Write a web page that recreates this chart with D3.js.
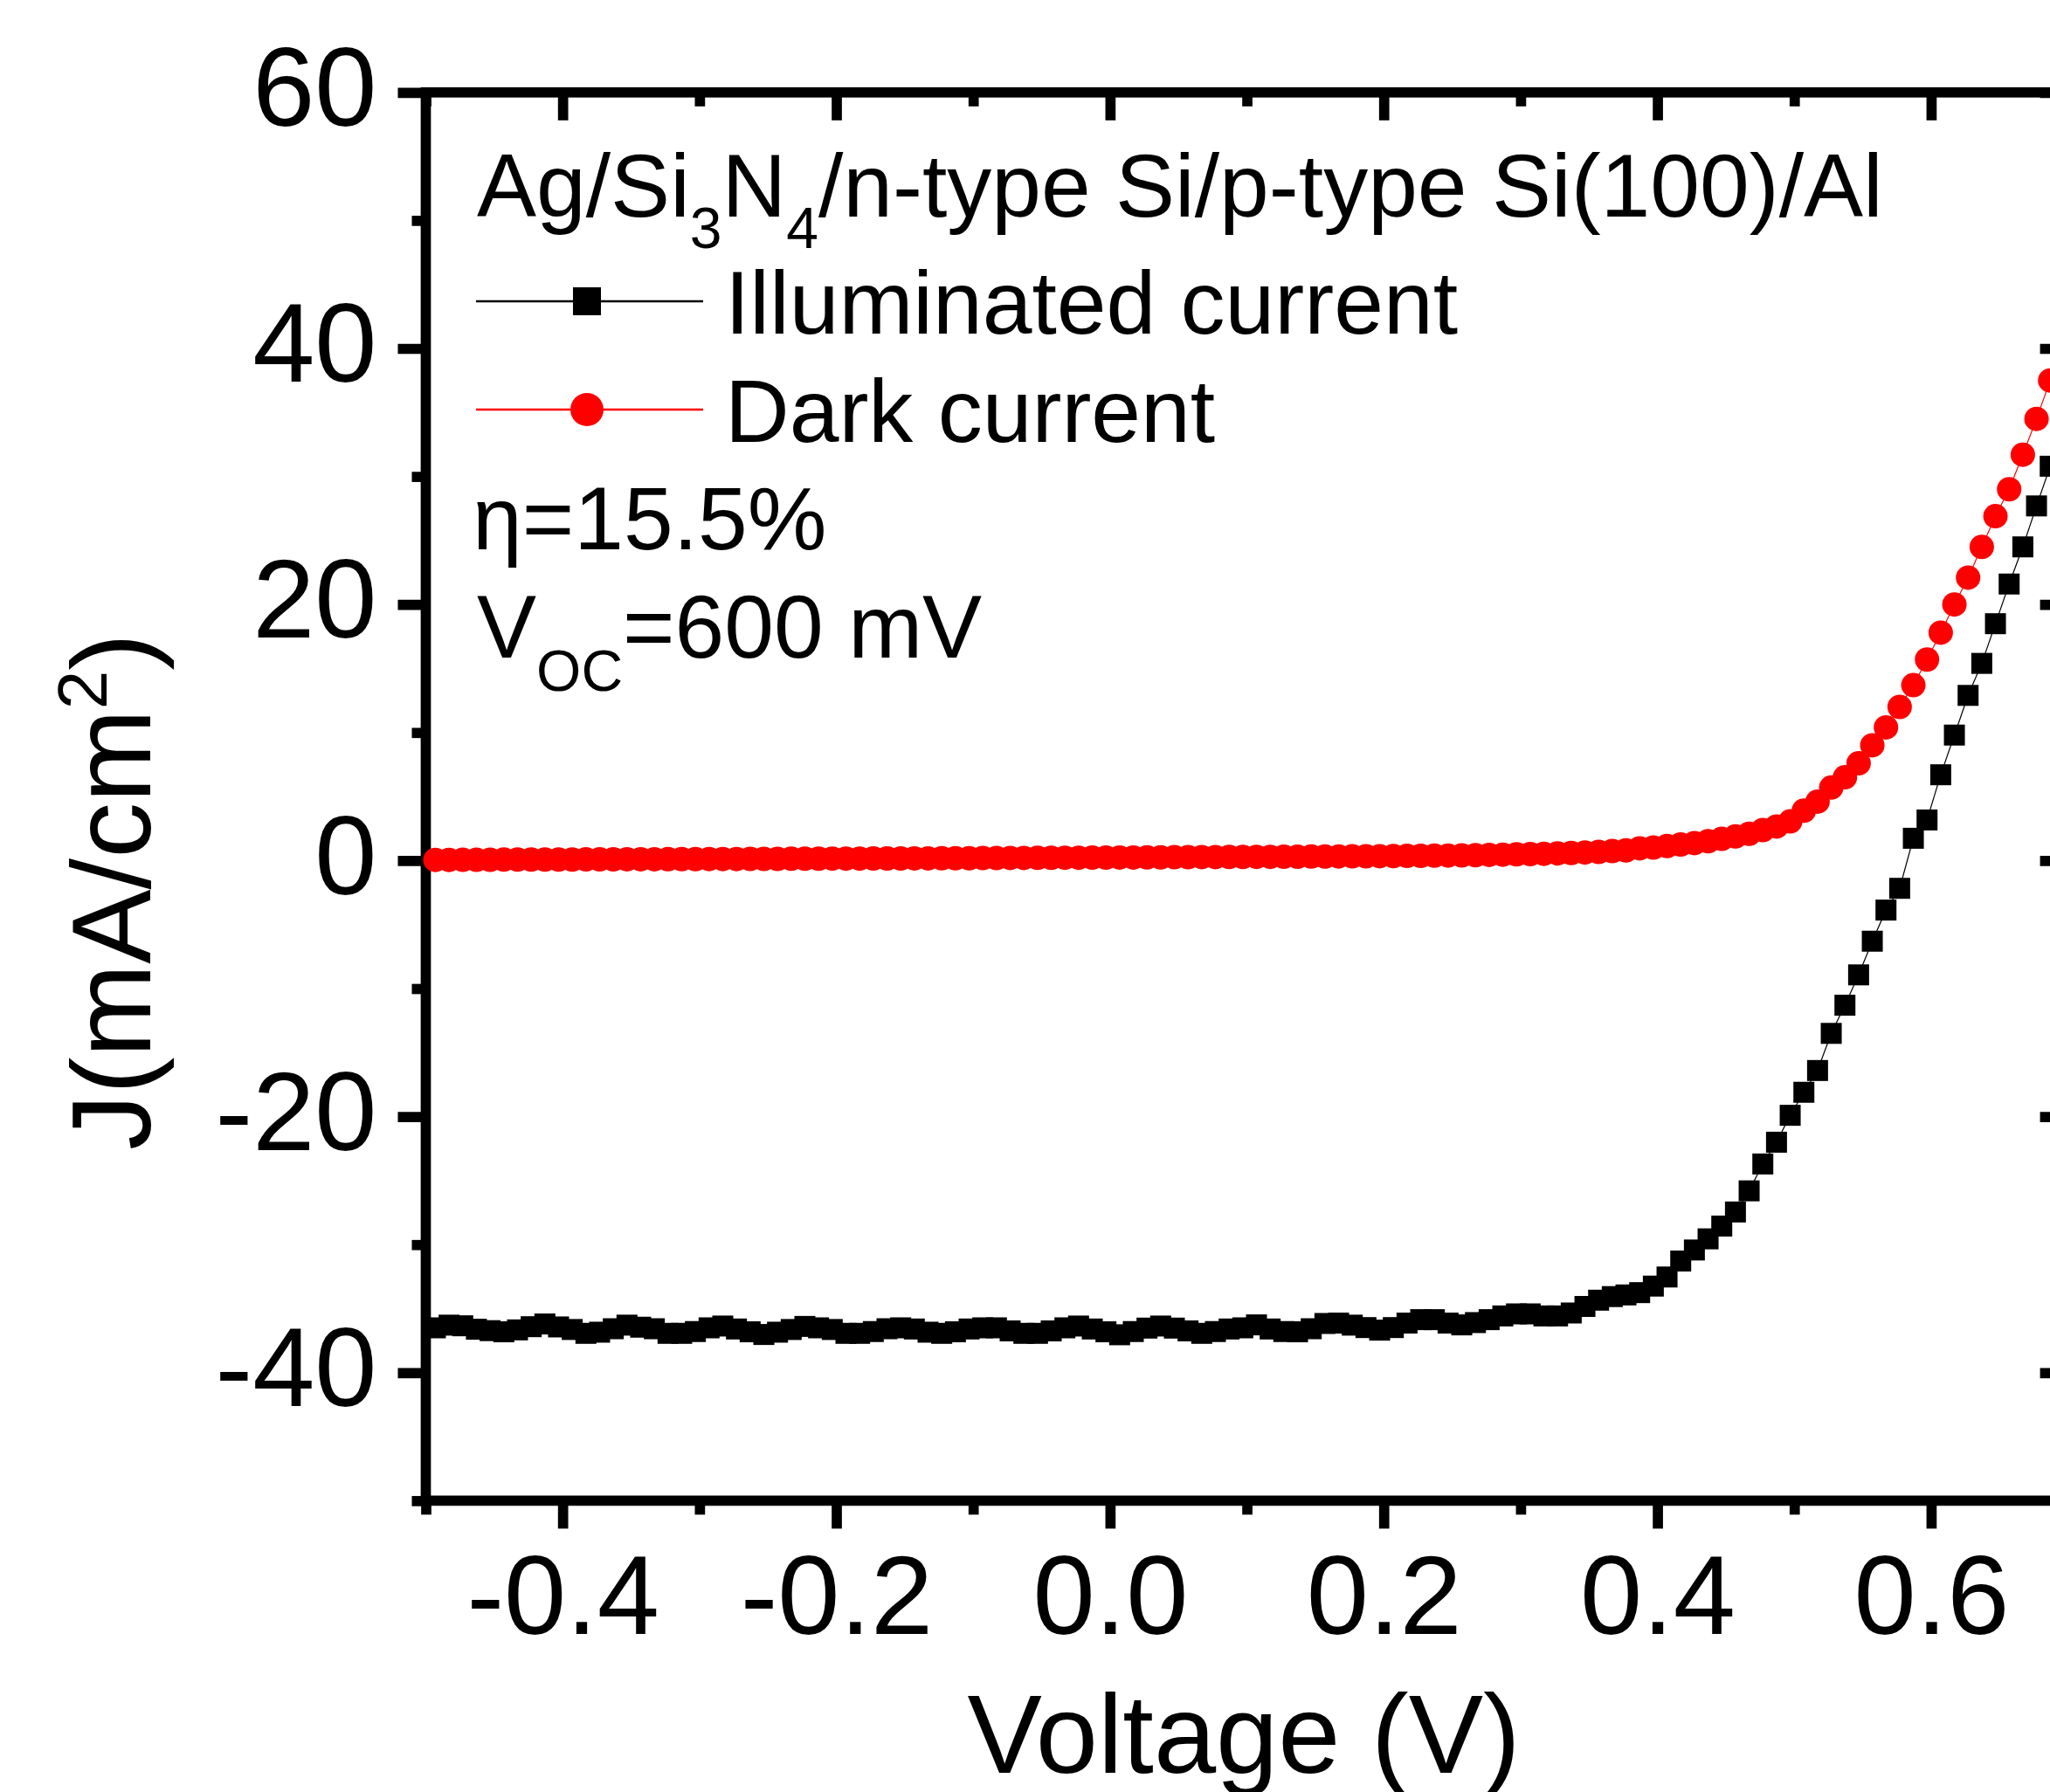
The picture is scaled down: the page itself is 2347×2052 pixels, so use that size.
<!DOCTYPE html>
<html>
<head>
<meta charset="utf-8">
<script src="https://cdn.jsdelivr.net/npm/d3@7"></script>
<style>
  body { margin: 0; background: #fff; overflow: hidden; }
  svg text { font-family: "Liberation Sans", Arial, sans-serif; fill: #000; }
</style>
</head>
<body>
<svg id="ivGraphSvg" width="2347" height="2052"></svg>
<script>
// sweep voltage (V)
const voltage = [
  -0.493,-0.483,-0.473,-0.463,-0.453,-0.443,-0.433,-0.423,-0.413,-0.403,
  -0.393,-0.383,-0.373,-0.363,-0.353,-0.343,-0.333,-0.323,-0.313,-0.303,
  -0.293,-0.283,-0.273,-0.263,-0.253,-0.243,-0.233,-0.223,-0.213,-0.203,
  -0.193,-0.183,-0.173,-0.163,-0.153,-0.143,-0.133,-0.123,-0.113,-0.103,
  -0.093,-0.083,-0.073,-0.063,-0.053,-0.043,-0.033,-0.023,-0.013,-0.003,
  0.007,0.017,0.027,0.037,0.047,0.057,0.067,0.077,0.087,0.097,
  0.107,0.117,0.127,0.137,0.147,0.157,0.167,0.177,0.187,0.197,
  0.207,0.217,0.227,0.237,0.247,0.257,0.267,0.277,0.287,0.297,
  0.307,0.317,0.327,0.337,0.347,0.357,0.367,0.377,0.387,0.397,
  0.407,0.417,0.427,0.437,0.447,0.457,0.467,0.477,0.487,0.497,
  0.507,0.517,0.527,0.537,0.547,0.557,0.567,0.577,0.587,0.597,
  0.607,0.617,0.627,0.637,0.647,0.657,0.667,0.677,0.687
];

// J (mA/cm2) under illumination
const illuminatedCurrent = [
  -36.50,-36.29,-36.34,-36.61,-36.72,-36.81,-36.66,-36.41,-36.20,-36.43,
  -36.63,-36.93,-36.84,-36.57,-36.29,-36.45,-36.57,-36.93,-36.93,-36.79,
  -36.50,-36.36,-36.59,-36.81,-37.02,-36.84,-36.63,-36.39,-36.50,-36.63,
  -36.93,-36.93,-36.79,-36.57,-36.50,-36.59,-36.84,-36.93,-36.81,-36.59,
  -36.50,-36.50,-36.74,-36.93,-36.93,-36.74,-36.50,-36.36,-36.59,-36.81,
  -37.04,-36.79,-36.52,-36.36,-36.52,-36.74,-36.93,-36.79,-36.59,-36.50,
  -36.27,-36.59,-36.79,-36.81,-36.57,-36.16,-36.13,-36.29,-36.48,-36.68,
  -36.48,-36.13,-35.86,-35.86,-36.13,-36.27,-36.09,-35.86,-35.57,-35.41,
  -35.41,-35.57,-35.57,-35.34,-34.83,-34.34,-34.06,-33.93,-33.75,-33.24,
  -32.53,-31.28,-30.42,-29.55,-28.55,-27.45,-25.80,-23.70,-22.00,-19.90,
  -18.10,-16.40,-13.50,-11.30,-8.93,-6.30,-3.87,-2.17,1.74,3.17,
  6.70,9.80,12.90,15.40,18.50,21.60,24.50,27.70,30.80
];

// J (mA/cm2) in the dark
const darkCurrent = [
  0.05,0.05,0.06,0.06,0.06,0.07,0.07,0.07,0.08,0.08,
  0.08,0.09,0.09,0.09,0.10,0.10,0.10,0.11,0.11,0.11,
  0.12,0.12,0.12,0.13,0.13,0.13,0.14,0.14,0.14,0.15,
  0.15,0.15,0.16,0.16,0.16,0.17,0.17,0.18,0.18,0.18,
  0.19,0.19,0.20,0.20,0.21,0.21,0.22,0.22,0.23,0.23,
  0.24,0.24,0.25,0.25,0.26,0.26,0.27,0.27,0.28,0.28,
  0.29,0.29,0.30,0.30,0.31,0.31,0.32,0.33,0.33,0.34,
  0.35,0.36,0.37,0.38,0.39,0.40,0.42,0.44,0.46,0.48,
  0.50,0.53,0.56,0.59,0.63,0.67,0.74,0.79,0.95,1.01,
  1.13,1.25,1.36,1.51,1.70,1.88,2.09,2.38,2.66,3.06,
  3.90,4.60,5.70,6.50,7.60,9.00,10.40,12.00,13.70,15.70,
  17.80,20.00,22.10,24.50,26.90,29.00,31.70,34.50,37.50
];

const xMajorTicks = [-0.4, -0.2, 0.0, 0.2, 0.4, 0.6];
const xMinorTicks = [-0.5, -0.3, -0.1, 0.1, 0.3, 0.5, 0.7];
const yMajorTicks = [-40, -20, 0, 20, 40, 60];
const yMinorTicks = [-50, -30, -10, 10, 30, 50];

const seriesNames = ["Illuminated current", "Dark current"];
const seriesColors = ["#000000", "#ff0000"];

const plot = { left: 487.5, right: 2367.6, top: 105.8, bottom: 1718.4 };
const axisWidth = 11.7;
const tickFont = 128;

const svg = d3.select("#ivGraphSvg");

const xScale = d3.scaleLinear().domain([-0.5, 0.7]).range([plot.left, plot.right]);
const yScale = d3.scaleLinear().domain([-50, 60]).range([plot.bottom, plot.top]);

function styleAxis(g) {
  g.select(".domain").remove();
  g.selectAll("line").attr("stroke", "#000").attr("stroke-width", axisWidth);
  g.selectAll("text").attr("font-size", tickFont).attr("fill", "#000");
}

// bottom axis, ticks out
svg.append("g")
  .attr("transform", `translate(0,${plot.bottom})`)
  .call(d3.axisBottom(xScale).tickValues(xMinorTicks).tickSize(16).tickFormat(""))
  .call(styleAxis);

const xAxisGroup = svg.append("g")
  .attr("transform", `translate(0,${plot.bottom})`)
  .call(d3.axisBottom(xScale).tickValues(xMajorTicks).tickSize(32).tickPadding(30)
    .tickFormat(d => d.toFixed(1)))
  .call(styleAxis);

// left axis, ticks out
svg.append("g")
  .attr("transform", `translate(${plot.left},0)`)
  .call(d3.axisLeft(yScale).tickValues(yMinorTicks).tickSize(16).tickFormat(""))
  .call(styleAxis);

const yAxisGroup = svg.append("g")
  .attr("transform", `translate(${plot.left},0)`)
  .call(d3.axisLeft(yScale).tickValues(yMajorTicks).tickSize(32).tickPadding(24)
    .tickFormat(d => String(d)))
  .call(styleAxis);
yAxisGroup.selectAll("text").attr("dy", "0.295em");

// top and right axes, ticks in
svg.append("g")
  .attr("transform", `translate(0,${plot.top})`)
  .call(d3.axisTop(xScale).tickValues(xMinorTicks).tickSize(-16).tickFormat(""))
  .call(styleAxis);
svg.append("g")
  .attr("transform", `translate(0,${plot.top})`)
  .call(d3.axisTop(xScale).tickValues(xMajorTicks).tickSize(-32).tickFormat(""))
  .call(styleAxis);
svg.append("g")
  .attr("transform", `translate(${plot.right},0)`)
  .call(d3.axisRight(yScale).tickValues(yMinorTicks).tickSize(-16).tickFormat(""))
  .call(styleAxis);
svg.append("g")
  .attr("transform", `translate(${plot.right},0)`)
  .call(d3.axisRight(yScale).tickValues(yMajorTicks).tickSize(-32).tickFormat(""))
  .call(styleAxis);

// frame
svg.append("rect")
  .attr("x", plot.left)
  .attr("y", plot.top)
  .attr("width", plot.right - plot.left)
  .attr("height", plot.bottom - plot.top)
  .attr("fill", "none")
  .attr("stroke", "#000")
  .attr("stroke-width", axisWidth);

// data
const illumData = voltage.map((v, i) => ({ v: v, j: illuminatedCurrent[i] }));
const darkData = voltage.map((v, i) => ({ v: v, j: darkCurrent[i] }));

const line = d3.line()
  .x(d => xScale(d.v))
  .y(d => yScale(d.j));

svg.append("path")
  .datum(illumData)
  .attr("d", line)
  .attr("fill", "none")
  .attr("stroke", seriesColors[0])
  .attr("stroke-width", 1.2);

svg.append("g")
  .selectAll("rect")
  .data(illumData)
  .enter()
  .append("rect")
  .attr("x", d => xScale(d.v) - 12)
  .attr("y", d => yScale(d.j) - 12)
  .attr("width", 24)
  .attr("height", 24)
  .attr("fill", seriesColors[0]);

svg.append("path")
  .datum(darkData)
  .attr("d", line)
  .attr("fill", "none")
  .attr("stroke", seriesColors[1])
  .attr("stroke-width", 1.2);

svg.append("g")
  .selectAll("circle")
  .data(darkData)
  .enter()
  .append("circle")
  .attr("cx", d => xScale(d.v))
  .attr("cy", d => yScale(d.j))
  .attr("r", 14)
  .attr("fill", seriesColors[1]);

// legend block
const legendFont = 102;

const title = svg.append("text")
  .attr("x", 546)
  .attr("y", 248)
  .attr("font-size", legendFont);
title.append("tspan").text("Ag/Si");
title.append("tspan").attr("font-size", 66).attr("dy", 36).text("3");
title.append("tspan").attr("dy", -36).text("N");
title.append("tspan").attr("font-size", 66).attr("dy", 36).text("4");
title.append("tspan").attr("dy", -36).text("/n-type Si/p-type Si(100)/Al");

const legendRows = [345, 469];
const legendBase = [382, 506];

// illuminated entry
svg.append("line")
  .attr("x1", 545).attr("x2", 805)
  .attr("y1", legendRows[0]).attr("y2", legendRows[0])
  .attr("stroke", seriesColors[0]).attr("stroke-width", 2.5);
svg.append("rect")
  .attr("x", 672 - 16).attr("y", legendRows[0] - 16)
  .attr("width", 32).attr("height", 32)
  .attr("fill", seriesColors[0]);
svg.append("text")
  .attr("x", 830).attr("y", legendBase[0])
  .attr("font-size", legendFont)
  .text(seriesNames[0]);

// dark entry
svg.append("line")
  .attr("x1", 545).attr("x2", 805)
  .attr("y1", legendRows[1]).attr("y2", legendRows[1])
  .attr("stroke", seriesColors[1]).attr("stroke-width", 2.5);
svg.append("circle")
  .attr("cx", 672).attr("cy", legendRows[1])
  .attr("r", 19)
  .attr("fill", seriesColors[1]);
svg.append("text")
  .attr("x", 830).attr("y", legendBase[1])
  .attr("font-size", legendFont)
  .text(seriesNames[1]);

svg.append("text")
  .attr("x", 541).attr("y", 629)
  .attr("font-size", legendFont)
  .text("η=15.5%");

const voc = svg.append("text")
  .attr("x", 546).attr("y", 753)
  .attr("font-size", legendFont);
voc.append("tspan").text("V");
voc.append("tspan").attr("font-size", 66).attr("dy", 38).text("OC");
voc.append("tspan").attr("dy", -38).text("=600 mV");

// axis titles
svg.append("text")
  .attr("x", 1424)
  .attr("y", 2030)
  .attr("text-anchor", "middle")
  .attr("font-size", tickFont)
  .text("Voltage (V)");

const yTitle = svg.append("text")
  .attr("transform", "translate(172,1317) rotate(-90)")
  .attr("text-anchor", "start")
  .attr("font-size", tickFont);
yTitle.append("tspan").text("J(mA/cm");
yTitle.append("tspan").attr("font-size", 80).attr("dy", -50).text("2");
yTitle.append("tspan").attr("dy", 50).text(")");
</script>
</body>
</html>
